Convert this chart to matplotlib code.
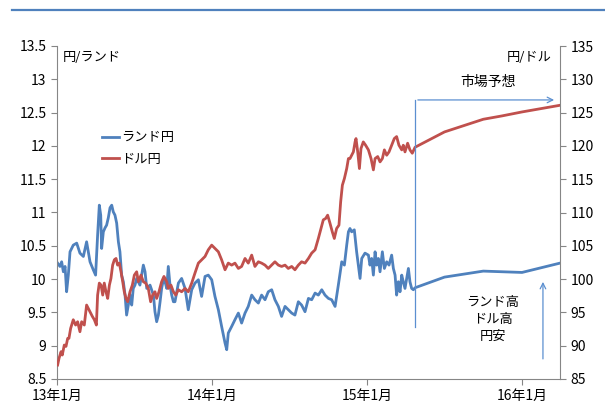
import matplotlib.pyplot as plt
import numpy as np
from matplotlib.lines import Line2D
from matplotlib.ticker import FormatStrFormatter

plt.rcParams['font.family'] = ['Noto Sans CJK JP', 'DejaVu Sans']

# years since Jan 2013, rand/yen (left axis)
rand_yrs = [0.004, 0.019, 0.030, 0.041, 0.052, 0.062, 0.073, 0.084, 0.105, 0.127,
            0.148, 0.170, 0.191, 0.213, 0.234, 0.249, 0.262, 0.273, 0.282, 0.288,
            0.299, 0.310, 0.320, 0.331, 0.342, 0.353, 0.363, 0.374, 0.385, 0.396,
            0.406, 0.417, 0.428, 0.439, 0.449, 0.460, 0.471, 0.482, 0.492, 0.503,
            0.514, 0.535, 0.557, 0.568, 0.579, 0.600, 0.622, 0.632, 0.643, 0.654,
            0.665, 0.675, 0.686, 0.697, 0.708, 0.718, 0.729, 0.740, 0.751, 0.761,
            0.783, 0.804, 0.826, 0.847, 0.869, 0.890, 0.912, 0.933, 0.955, 0.976,
            0.998, 1.019, 1.041, 1.062, 1.084, 1.095, 1.105, 1.127, 1.148, 1.170,
            1.191, 1.213, 1.234, 1.256, 1.277, 1.299, 1.320, 1.342, 1.363, 1.385,
            1.406, 1.428, 1.449, 1.471, 1.492, 1.514, 1.535, 1.557, 1.578, 1.600,
            1.622, 1.643, 1.665, 1.686, 1.708, 1.729, 1.751, 1.772, 1.794, 1.815,
            1.837, 1.854, 1.869, 1.880, 1.890, 1.901, 1.918, 1.933, 1.944, 1.955,
            1.966, 1.987, 2.009, 2.019, 2.030, 2.041, 2.052, 2.062, 2.073, 2.084,
            2.099, 2.112, 2.127, 2.142, 2.159, 2.170, 2.181, 2.191, 2.202, 2.213,
            2.224, 2.234, 2.245, 2.267, 2.277, 2.288, 2.299, 2.310]
rand_yen = [10.24, 10.19, 10.26, 10.11, 10.19, 9.81, 10.06, 10.41, 10.51, 10.54,
            10.39, 10.34, 10.56, 10.26, 10.14, 10.06, 10.66, 11.11, 10.96, 10.46,
            10.71, 10.77, 10.81, 10.92, 11.07, 11.11, 11.01, 10.96, 10.84, 10.56,
            10.41, 10.06, 9.96, 9.76, 9.46, 9.61, 9.76, 9.61, 9.86, 9.91,
            10.01, 9.91, 10.21, 10.11, 9.86, 9.91, 9.76, 9.51, 9.36, 9.46,
            9.66, 9.86, 9.99, 9.96, 9.86, 10.19, 9.91, 9.76, 9.66, 9.66,
            9.94, 10.01, 9.86, 9.54, 9.84, 9.94, 9.99, 9.74, 10.04, 10.06,
            9.99, 9.74, 9.54, 9.29, 9.04, 8.94, 9.19, 9.29, 9.39, 9.49,
            9.34, 9.49, 9.59, 9.76, 9.69, 9.64, 9.76, 9.69, 9.81, 9.84,
            9.69, 9.59, 9.44, 9.59, 9.54, 9.49, 9.46, 9.66, 9.61, 9.51,
            9.71, 9.69, 9.79, 9.76, 9.84, 9.76, 9.71, 9.69, 9.59, 9.91,
            10.26, 10.21, 10.51, 10.71, 10.76, 10.71, 10.74, 10.41, 10.21, 10.01,
            10.31, 10.39, 10.36, 10.21, 10.31, 10.06, 10.41, 10.21, 10.31, 10.11,
            10.41, 10.16, 10.26, 10.21, 10.36, 10.16, 10.06, 9.76, 9.96, 9.81,
            10.06, 9.96, 9.86, 10.16, 9.96, 9.86, 9.84, 9.87]

# years since Jan 2013, dollar/yen (right axis)
usd_yrs = [0.004, 0.013, 0.026, 0.034, 0.047, 0.058, 0.069, 0.077, 0.088, 0.105,
           0.120, 0.133, 0.148, 0.159, 0.176, 0.191, 0.202, 0.213, 0.228, 0.241,
           0.254, 0.262, 0.273, 0.284, 0.295, 0.305, 0.316, 0.327, 0.338, 0.348,
           0.359, 0.370, 0.381, 0.391, 0.402, 0.413, 0.424, 0.434, 0.445, 0.456,
           0.471, 0.486, 0.499, 0.514, 0.525, 0.542, 0.557, 0.572, 0.589, 0.604,
           0.617, 0.632, 0.643, 0.658, 0.675, 0.690, 0.708, 0.718, 0.735, 0.751,
           0.766, 0.783, 0.804, 0.826, 0.847, 0.869, 0.890, 0.912, 0.933, 0.955,
           0.976, 0.998, 1.019, 1.041, 1.062, 1.084, 1.105, 1.127, 1.148, 1.170,
           1.191, 1.213, 1.234, 1.256, 1.277, 1.299, 1.320, 1.342, 1.363, 1.385,
           1.406, 1.428, 1.449, 1.471, 1.492, 1.514, 1.535, 1.557, 1.578, 1.600,
           1.622, 1.643, 1.665, 1.686, 1.703, 1.718, 1.733, 1.746, 1.761, 1.776,
           1.789, 1.804, 1.819, 1.830, 1.841, 1.854, 1.869, 1.880, 1.890, 1.901,
           1.912, 1.923, 1.929, 1.940, 1.951, 1.961, 1.976, 1.991, 2.009, 2.026,
           2.041, 2.052, 2.069, 2.084, 2.099, 2.112, 2.127, 2.142, 2.159, 2.176,
           2.191, 2.206, 2.224, 2.234, 2.245, 2.262, 2.277, 2.292, 2.310]
usd_yen = [87.1, 88.1, 89.1, 88.6, 90.1, 89.9, 91.1, 91.1, 92.6, 93.9,
           93.1, 93.6, 92.1, 93.6, 93.1, 96.1, 95.6, 95.1, 94.4, 93.9,
           93.1, 97.6, 99.4, 99.1, 97.6, 99.4, 98.1, 97.1, 99.1, 100.1,
           102.1, 102.9, 103.1, 102.1, 102.4, 101.1, 99.6, 98.1, 97.1, 96.6,
           98.1, 99.1, 100.6, 101.1, 99.6, 100.6, 99.6, 99.4, 98.6, 96.6,
           97.6, 98.1, 97.1, 98.1, 99.6, 100.4, 99.6, 98.6, 99.1, 98.1,
           97.6, 98.4, 98.1, 98.6, 98.1, 99.4, 100.9, 102.4, 102.9, 103.4,
           104.4, 105.1, 104.6, 104.1, 102.9, 101.4, 102.4, 102.1, 102.4, 101.6,
           101.9, 103.1, 102.4, 103.6, 101.9, 102.6, 102.4, 102.1, 101.6, 102.1,
           102.6, 102.1, 101.9, 102.1, 101.6, 101.9, 101.4, 102.1, 102.6, 102.4,
           103.1, 103.9, 104.4, 106.1, 107.6, 108.9, 109.1, 109.6, 108.4, 107.1,
           106.1, 107.6, 108.1, 111.6, 114.1, 115.1, 116.6, 118.1, 118.1, 118.6,
           119.1, 120.6, 121.1, 119.1, 116.6, 119.6, 120.6, 120.1, 119.4, 118.1,
           116.4, 118.1, 118.4, 117.6, 118.1, 119.4, 118.6, 119.1, 120.1, 121.1,
           121.4, 120.1, 119.4, 120.1, 119.1, 120.4, 119.4, 118.9, 119.8]

# market consensus path after the last actual date
fc_yrs = [2.310, 2.500, 2.750, 2.870, 3.000, 3.245]
fc_rand = [9.87, 10.03, 10.12, 10.11, 10.10, 10.24]
fc_usd = [119.8, 122.1, 124.0, 124.5, 125.1, 126.1]

year_ticks = [2013, 2014, 2015, 2016]
year_labels = ['13年1月', '14年1月', '15年1月', '16年1月']

blue = '#4F81BD'
red = '#C0504D'
gray = '#868686'
arrow_col = '#5B8FD0'

fig = plt.figure(figsize=(6.05, 4.12), dpi=100)
ax = fig.add_axes([57 / 605, 1 - 379 / 412, 503 / 605, 333 / 412])
ax2 = ax.twinx()

x_rand = 2013 + np.concatenate([rand_yrs, fc_yrs[1:]])
y_rand = np.concatenate([rand_yen, fc_rand[1:]])
x_usd = 2013 + np.concatenate([usd_yrs, fc_yrs[1:]])
y_usd = np.concatenate([usd_yen, fc_usd[1:]])

l1, = ax.plot(x_rand, y_rand, color=blue, lw=2.0, label='ランド円')
l2, = ax2.plot(x_usd, y_usd, color=red, lw=2.0, label='ドル円')

ax.set_xlim(2013, 2013 + fc_yrs[-1])
ax.set_ylim(8.5, 13.5)
ax2.set_ylim(85, 135)
ax.set_yticks(np.arange(8.5, 13.51, 0.5))
ax2.set_yticks(np.arange(85, 135.1, 5))
ax.yaxis.set_major_formatter(FormatStrFormatter('%g'))
ax.set_xticks(year_ticks)
ax.set_xticklabels(year_labels)

for a in (ax, ax2):
    for s in a.spines.values():
        s.set_color(gray)
    a.spines['top'].set_visible(False)
    a.tick_params(colors=gray, labelcolor='black', labelsize=10, length=4, direction='out')
ax.spines['right'].set_visible(False)
ax2.spines['left'].set_visible(False)
ax2.spines['bottom'].set_visible(False)

ax.text(2013.04, 13.33, '円/ランド', fontsize=9.5, va='center', ha='left')
ax2.text(2016.19, 133.3, '円/ドル', fontsize=9.5, va='center', ha='right')

ax.legend(handles=[l1, l2], loc='upper left', bbox_to_anchor=(0.065, 0.78),
          frameon=False, fontsize=9.5, handlelength=1.3, handletextpad=0.2,
          labelspacing=0.65)

# forecast bracket
x0 = 2013 + fc_yrs[0]
ax2.plot([x0, x0], [92.8, 126.9], color=arrow_col, lw=0.9)
ax2.annotate('', xy=(2013 + fc_yrs[-1] - 0.02, 126.9), xytext=(x0, 126.9),
             arrowprops=dict(arrowstyle='->', color=arrow_col, lw=0.9))
ax2.text(2015.78, 129.6, '市場予想', fontsize=10, ha='center', va='center')

ax2.annotate('', xy=(2016.135, 100.0), xytext=(2016.135, 87.6),
             arrowprops=dict(arrowstyle='->', color=arrow_col, lw=0.9))
ax2.text(2015.81, 94.0, 'ランド高\nドル高\n円安', fontsize=9.5, ha='center',
         va='center', multialignment='center', linespacing=1.4)

fig.add_artist(Line2D([12 / 605, 1], [1 - 10 / 412] * 2, color=blue, lw=1.6))

fig.savefig('out.png', dpi=100)
